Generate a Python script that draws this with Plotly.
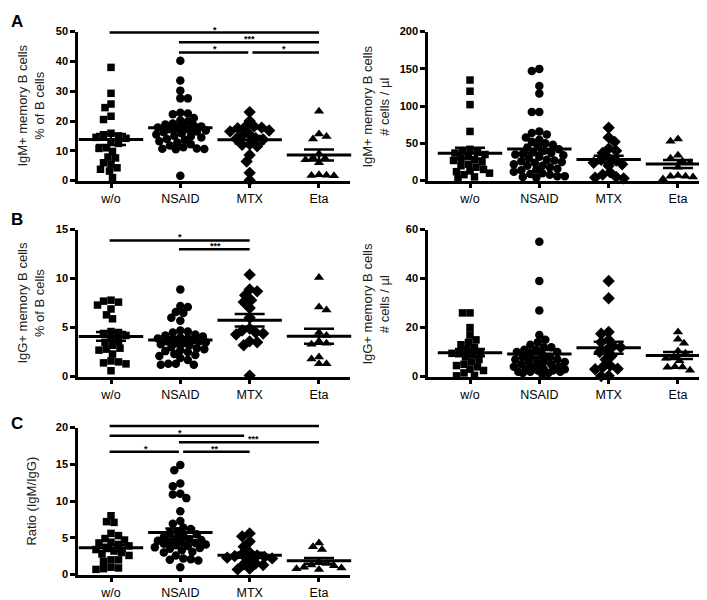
import numpy as np
import plotly.graph_objects as go

categories = ["w/o", "NSAID", "MTX", "Eta"]

# ---- Panel A (left): IgM+ memory B cells, % of B cells
igm_pct_wo = [38.0, 29.3, 25.7, 24.5, 21.6, 20.5, 15.9, 15.4, 15.0, 14.5, 14.2, 13.0,
              12.5, 11.0, 10.8, 9.8, 7.9, 7.6, 6.0, 5.5, 4.3, 3.8, 3.2, 1.0]
igm_pct_nsaid = [40.2, 33.6, 30.2, 27.6, 27.6, 22.8, 22.5, 22.3, 21.0, 20.2, 19.8, 19.2,
                 18.8, 18.5, 18.2, 18.0, 17.8, 17.5, 17.2, 17.0, 16.8, 16.5, 16.2, 15.8,
                 15.5, 15.0, 14.8, 14.5, 14.0, 13.6, 13.2, 12.8, 12.2, 11.8, 11.2, 10.8,
                 10.7, 10.6, 10.5, 1.6]
igm_pct_mtx = [23.0, 20.0, 18.2, 18.0, 17.8, 17.6, 16.8, 16.5, 15.5, 15.2, 14.2, 14.0,
               13.8, 12.2, 12.0, 11.5, 8.6, 6.4, 2.6, 0.1]
igm_pct_eta = [23.3, 15.6, 14.8, 14.0, 9.0, 7.7, 7.5, 7.0, 6.0, 2.0, 1.8, 1.7, 1.6]

# ---- Panel A (right): IgM+ memory B cells, # cells / µl
igm_abs_wo = [135, 120, 102, 66, 42, 40, 38, 37, 35, 33, 30, 28, 27, 25, 22, 20, 18, 15,
              13, 12, 10, 8, 5, 3]
igm_abs_nsaid = [150, 147, 127, 117, 92, 92, 66, 64, 62, 58, 55, 52, 50, 48, 46, 44, 42,
                 40, 38, 37, 36, 35, 34, 32, 30, 28, 27, 26, 25, 24, 22, 20, 20, 18, 16,
                 15, 14, 12, 10, 9, 8, 6, 6, 5, 4]
igm_abs_mtx = [71, 58, 52, 43, 40, 37, 30, 28, 27, 24, 22, 20, 11, 8, 5, 4, 3]
igm_abs_eta = [56, 53, 34, 30, 26, 24, 18, 7, 6, 6, 5, 2]

# ---- Panel B (left): IgG+ memory B cells, % of B cells
igg_pct_wo = [7.8, 7.7, 7.6, 7.3, 6.9, 6.3, 5.9, 4.6, 4.5, 4.4, 4.2, 3.9, 3.6, 3.5, 3.2,
              2.9, 2.8, 2.7, 2.3, 1.6, 1.5, 1.4, 1.3, 0.6]
igg_pct_nsaid = [8.9, 7.2, 7.1, 6.6, 6.5, 6.0, 5.7, 4.7, 4.6, 4.5, 4.3, 4.2, 4.1, 4.0,
                 3.9, 3.9, 3.8, 3.7, 3.6, 3.6, 3.5, 3.4, 3.4, 3.3, 3.2, 3.0, 2.9, 2.8,
                 2.7, 2.6, 2.5, 2.3, 2.2, 2.1, 1.9, 1.7, 1.3, 1.3, 1.2, 1.2]
igg_pct_mtx = [10.4, 8.9, 8.7, 8.3, 7.8, 7.6, 7.0, 6.0, 4.9, 4.7, 4.5, 4.4, 4.3, 3.6,
               3.5, 3.2, 0.1]
igg_pct_eta = [10.1, 7.1, 6.8, 4.5, 4.2, 3.6, 3.4, 3.3, 2.0, 1.8, 1.3, 1.3]

# ---- Panel B (right): IgG+ memory B cells, # cells / µl
igg_abs_wo = [26, 26, 20, 17, 15, 14, 13, 12, 11, 10, 10, 9.5, 9, 8, 7, 6, 5, 4.5, 4, 3,
              2.5, 1.5, 0.5, 0.3]
igg_abs_nsaid = [55, 39, 27, 17, 15, 14, 13, 12, 12, 11, 11, 10, 10, 9, 9, 8, 8, 7, 7, 7,
                 6, 6, 6, 5, 5, 5, 4, 4, 4, 3, 3, 3, 2.5, 2.5, 2, 2, 2, 1.5, 1.5, 1]
igg_abs_mtx = [39, 32, 18.2, 17.5, 15, 14, 12.5, 12, 11, 10, 8.5, 7, 4.5, 3.8, 3.2, 3.0,
               0.3, 0.2]
igg_abs_eta = [18.2, 15.2, 13.6, 10.4, 9.5, 8.0, 7.5, 6.5, 4.0, 3.9, 3.8, 2.6]

# ---- Panel C: Ratio IgM/IgG
ratio_wo = [8.0, 7.2, 7.1, 5.6, 5.3, 4.9, 4.7, 4.4, 4.3, 4.1, 3.9, 3.6, 3.4, 3.2, 3.0,
            2.8, 2.6, 2.0, 2.0, 1.8, 1.0, 0.9, 0.8, 0.7]
ratio_nsaid = [14.9, 14.2, 12.4, 12.0, 11.0, 10.9, 10.4, 8.6, 7.3, 6.9, 6.4, 6.2, 5.9,
               5.7, 5.5, 5.3, 5.1, 4.9, 4.8, 4.7, 4.6, 4.5, 4.4, 4.3, 4.2, 4.1, 4.0, 3.9,
               3.7, 3.6, 3.5, 3.3, 3.1, 3.0, 2.6, 2.2, 2.1, 2.0, 1.9, 1.0]
ratio_mtx = [5.6, 5.2, 4.5, 3.8, 3.0, 2.8, 2.6, 2.5, 2.4, 2.3, 2.2, 2.0, 1.5, 1.4, 1.3,
             0.8, 0.7]
ratio_eta = [4.3, 3.8, 3.4, 1.7, 1.5, 1.3, 1.2, 1.0, 0.9, 0.8, 0.7]

# ---- significance comparisons: (group i, group j, bar level, label)
sig_a = [(0, 3, 49.7, "*"), (1, 3, 46.4, "***"), (1, 2, 43.0, "*"), (2, 3, 43.0, "*")]
sig_b = [(0, 2, 13.9, "*"), (1, 2, 13.0, "***")]
sig_c = [(0, 3, 20.2, "**"), (0, 2, 18.9, "*"), (1, 3, 18.0, "***"),
         (0, 1, 16.7, "*"), (1, 2, 16.7, "**")]

# ---------------------------------------------------------------- layout
W, H = 707, 600
FONT = "Liberation Sans, Arial, Helvetica, sans-serif"
PPX = 69.33  # px per category unit

COLS = {"L": (70, 342, 103), "R": (420, 706, 462)}   # axis left, right, first category px
ROWS = {"A": (18, 170), "B": (220, 370), "C": (422, 572)}  # top, bottom px
BAR_END_TRIM = {("C", 0, 2): 0.08}  # style: shorten a bar so the label below stays clear

panels = [
    dict(col="L", row="A", ymax=50, dtick=10,
         title="IgM+ memory B cells<br>% of B cells",
         groups=[igm_pct_wo, igm_pct_nsaid, igm_pct_mtx, igm_pct_eta], sig=sig_a),
    dict(col="R", row="A", ymax=200, dtick=50,
         title="IgM+ memory B cells<br># cells / µl",
         groups=[igm_abs_wo, igm_abs_nsaid, igm_abs_mtx, igm_abs_eta], sig=[]),
    dict(col="L", row="B", ymax=15, dtick=5,
         title="IgG+ memory B cells<br>% of B cells",
         groups=[igg_pct_wo, igg_pct_nsaid, igg_pct_mtx, igg_pct_eta], sig=sig_b),
    dict(col="R", row="B", ymax=60, dtick=20,
         title="IgG+ memory B cells<br># cells / µl",
         groups=[igg_abs_wo, igg_abs_nsaid, igg_abs_mtx, igg_abs_eta], sig=[]),
    dict(col="L", row="C", ymax=20, dtick=5,
         title="Ratio (IgM/IgG)",
         groups=[ratio_wo, ratio_nsaid, ratio_mtx, ratio_eta], sig=sig_c),
]

symbols = ["square", "circle", "diamond", "triangle-up"]
sizes = [7.5, 8.5, 9.5, 9]


def swarm_offsets(values, ppu_y, ppu_x, d=7.0, step=1.5, maxw=26.0):
    v = np.asarray(values, float)
    order = np.argsort(-v, kind="stable")
    px_, py_ = [], []
    out = np.zeros(len(v))
    sign = 1
    nmax = int(maxw / step)
    for i in order:
        y = v[i] * ppu_y
        chosen, best, bestd = None, 0.0, -1.0
        for m in range(0, nmax + 1):
            for s in ((sign, -sign) if m else (1,)):
                c = s * m * step
                md = min([np.hypot(c - a, y - b) for a, b in zip(px_, py_)] or [1e9])
                if md >= d:
                    chosen = c
                    break
                if md > bestd:
                    bestd, best = md, c
            if chosen is not None:
                break
        if chosen is None:
            chosen = best
        sign = -sign
        px_.append(chosen)
        py_.append(y)
        out[i] = chosen / ppu_x
    return out


fig = go.Figure()
shapes, annotations = [], []
layout_axes = {}

for k, p in enumerate(panels):
    n = k + 1
    xa = "x" if n == 1 else f"x{n}"
    ya = "y" if n == 1 else f"y{n}"
    x0px, x1px, c0px = COLS[p["col"]]
    top, bot = ROWS[p["row"]]
    r0 = -(c0px - x0px) / PPX
    r1 = r0 + (x1px - x0px) / PPX
    ppu_y = (bot - top) / p["ymax"]

    for g, vals in enumerate(p["groups"]):
        offs = swarm_offsets(vals, ppu_y, PPX)
        fig.add_trace(go.Scatter(
            x=g + offs, y=vals, mode="markers", xaxis=xa, yaxis=ya,
            marker=dict(symbol=symbols[g], size=sizes[g], color="black",
                        line=dict(width=0)),
            cliponaxis=False, showlegend=False, hoverinfo="y"))
        arr = np.asarray(vals, float)
        mean = arr.mean()
        sem = arr.std(ddof=1) / np.sqrt(len(arr))
        fig.add_trace(go.Scatter(
            x=[g], y=[mean], mode="markers", xaxis=xa, yaxis=ya,
            marker=dict(symbol="line-ew", size=46, color="black",
                        line=dict(width=3, color="black")),
            error_y=dict(type="data", array=[sem], visible=True, width=15,
                         thickness=2.5, color="black"),
            cliponaxis=False, showlegend=False, hoverinfo="y"))

    # significance bars
    for (i, j, lev, lab) in p["sig"]:
        xs, xe = float(i) - 0.02, float(j)
        xe -= BAR_END_TRIM.get((p["row"], i, j), 0.0)
        for (i2, j2, lev2, _) in p["sig"]:
            if lev2 == lev and (i2, j2) != (i, j):
                if j2 == i:
                    xs += 0.06
                if i2 == j:
                    xe -= 0.02
        shapes.append(dict(
            type="line", xref=f"{xa} domain", yref=f"{ya} domain",
            x0=(xs - r0) / (r1 - r0), x1=(xe - r0) / (r1 - r0),
            y0=lev / p["ymax"], y1=lev / p["ymax"],
            line=dict(color="black", width=2.5)))
        annotations.append(dict(
            xref=xa, yref=ya, x=(i + j) / 2 + (0.06 if lab == "***" and p["row"] == "C" else 0),
            y=lev, text=lab, showarrow=False,
            yanchor="bottom", yshift=-4,
            font=dict(family=FONT, size=9, color="black", weight="bold")))

    layout_axes["xaxis" if n == 1 else f"xaxis{n}"] = dict(
        domain=[x0px / W, x1px / W], range=[r0, r1], anchor=ya,
        tickvals=[0, 1, 2, 3], ticktext=categories, showline=True, linewidth=2.5,
        linecolor="black", ticks="outside", ticklen=5, tickwidth=2.5, tickcolor="black",
        showgrid=False, zeroline=False,
        tickfont=dict(family=FONT, size=12.5, color="black"), fixedrange=True)
    layout_axes["yaxis" if n == 1 else f"yaxis{n}"] = dict(
        domain=[1 - bot / H, 1 - top / H], range=[0, p["ymax"]], anchor=xa,
        tick0=0, dtick=p["dtick"], showline=True, linewidth=2.5, linecolor="black",
        ticks="outside", ticklen=5, tickwidth=2.5, tickcolor="black",
        showgrid=False, zeroline=False,
        tickfont=dict(family=FONT, size=11, color="black", weight="bold"),
        fixedrange=True)

    # y-axis title
    tx = 23.5 if p["col"] == "L" else 368.5
    annotations.append(dict(
        xref="paper", yref="paper", x=tx / W, y=1 - (top + bot) / 2 / H,
        text=p["title"], textangle=-90, showarrow=False, xanchor="center",
        yanchor="middle", font=dict(family=FONT, size=13, color="#222")))

for lab, ypx in (("A", 8), ("B", 210), ("C", 418)):
    annotations.append(dict(
        xref="paper", yref="paper", x=1 / W, y=1 - ypx / H, text=lab, showarrow=False,
        xanchor="left", yanchor="middle",
        font=dict(family=FONT, size=17, color="black", weight="bold")))

fig.update_layout(
    width=W, height=H, margin=dict(l=0, r=0, t=0, b=0),
    paper_bgcolor="white", plot_bgcolor="white",
    shapes=shapes, annotations=annotations, **layout_axes)

fig.write_html("out.html")
